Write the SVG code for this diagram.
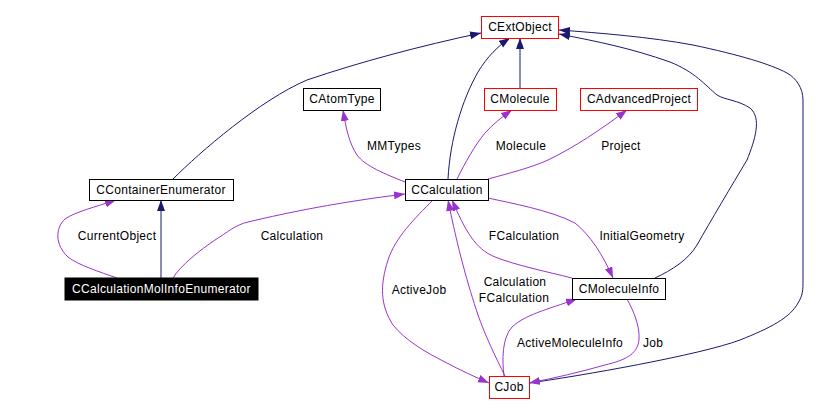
<svg xmlns="http://www.w3.org/2000/svg" width="821" height="415" viewBox="0 0 821 415">
<style>
.n rect{fill:#fff;stroke:#000;stroke-width:1}
.n.r rect{stroke:#f00}
.n text,.lbl{font-family:"Liberation Sans",Arial,sans-serif;font-size:12px;letter-spacing:0.3px;fill:#000;text-anchor:middle}
.n.b rect{fill:#000}
.n.b text{fill:#fff}
.inh{fill:none;stroke:#191970;stroke-width:1;marker-end:url(#ab)}
.use{fill:none;stroke:#9a32cd;stroke-width:1;marker-end:url(#ap)}
</style>
<defs>
<marker id="ab" markerUnits="userSpaceOnUse" markerWidth="12" markerHeight="9" refX="11" refY="4" orient="auto"><path d="M0,0 L11,4 L0,8 z" fill="#191970"/></marker>
<marker id="ap" markerUnits="userSpaceOnUse" markerWidth="12" markerHeight="9" refX="11" refY="4" orient="auto"><path d="M0,0 L11,4 L0,8 z" fill="#9a32cd"/></marker>
</defs>
<rect width="821" height="415" fill="#fff"/>
<g id="connectors">
<path class="inh" d="M173,179 C200,152 260,100 307,80 C360,62 420,46 481,33"/>
<path class="inh" d="M448,179 C450,140 462,100 478,72 C487,57 498,46 510,38"/>
<path class="inh" d="M520,88 L520,38"/>
<path class="inh" d="M655,278 C672,270 688,260 697,245 C710,222 732,185 747,160 C755,140 762,118 750,108 C738,100 725,100 717,95 C705,85 695,72 670,62 C630,48 600,42 559,34"/>
<path class="inh" d="M529,383 C580,376 700,355 740,340 C770,328 790,318 798,303 C803,295 803,290 803,280 L803,100 C803,88 796,78 787,73 C770,64 740,55 693,45 C650,37 600,33 559,30"/>
<path class="inh" d="M161,278 L161,200"/>
<path class="use" d="M405,182 C385,174 365,166 357,155 C349,143 346,128 343,110"/>
<path class="use" d="M457,179 C465,163 475,145 485,133 C493,124 502,117 512,110"/>
<path class="use" d="M488,179 C510,173 530,168 548,160 C575,147 600,130 627,110"/>
<path class="use" d="M117,278 C100,272 78,265 68,257 C55,245 55,228 65,219 C75,212 95,207 116,200"/>
<path class="use" d="M173,278 C180,266 200,250 215,240 C228,232 235,225 248,222 C290,212 340,202 405,194"/>
<path class="use" d="M433,200 C415,218 395,238 388,260 C380,285 380,305 393,325 C405,340 425,352 445,362 C460,370 475,377 489,383"/>
<path class="use" d="M505,376 C495,356 485,335 478,315 C468,285 458,250 448,200"/>
<path class="use" d="M572,278 C548,272 515,265 495,257 C475,249 465,230 452,200"/>
<path class="use" d="M488,198 C510,203 550,210 575,223 C590,235 603,255 613,278"/>
<path class="use" d="M504,376 C502,360 502,338 512,327 C525,315 545,310 577,299"/>
<path class="use" d="M627,299 C633,310 640,325 639,340 C637,355 625,360 605,365 C580,372 555,378 529,383"/>
<text class="lbl" x="394" y="150">MMTypes</text>
<text class="lbl" x="521" y="150">Molecule</text>
<text class="lbl" x="621" y="150">Project</text>
<text class="lbl" x="117" y="240">CurrentObject</text>
<text class="lbl" x="292" y="240">Calculation</text>
<text class="lbl" x="524" y="240">FCalculation</text>
<text class="lbl" x="642" y="240">InitialGeometry</text>
<text class="lbl" x="419" y="294">ActiveJob</text>
<text class="lbl" x="515" y="286">Calculation</text>
<text class="lbl" x="514" y="302">FCalculation</text>
<text class="lbl" x="570" y="347">ActiveMoleculeInfo</text>
<text class="lbl" x="653" y="347">Job</text>
</g>
<g id="CExtObject" class="n r"><rect x="481.5" y="16.5" width="77" height="22"/><text x="520" y="31">CExtObject</text></g>
<g id="CMolecule" class="n r"><rect x="484.5" y="88.5" width="72" height="22"/><text x="520" y="103">CMolecule</text></g>
<g id="CAdvancedProject" class="n r"><rect x="580.5" y="88.5" width="117" height="22"/><text x="639" y="103">CAdvancedProject</text></g>
<g id="CAtomType" class="n"><rect x="303.5" y="88.5" width="77" height="22"/><text x="342" y="103">CAtomType</text></g>
<g id="CContainerEnumerator" class="n"><rect x="89.5" y="179.5" width="144" height="21"/><text x="161" y="194">CContainerEnumerator</text></g>
<g id="CCalculation" class="n"><rect x="405.5" y="179.5" width="83" height="21"/><text x="447" y="194">CCalculation</text></g>
<g id="CCalculationMolInfoEnumerator" class="n b"><rect x="65" y="278" width="193" height="22"/><text x="161.5" y="293">CCalculationMolInfoEnumerator</text></g>
<g id="CMoleculeInfo" class="n"><rect x="572.5" y="278.5" width="93" height="21"/><text x="619" y="293">CMoleculeInfo</text></g>
<g id="CJob" class="n r"><rect x="489.5" y="376.5" width="40" height="22"/><text x="509" y="391">CJob</text></g>
</svg>
